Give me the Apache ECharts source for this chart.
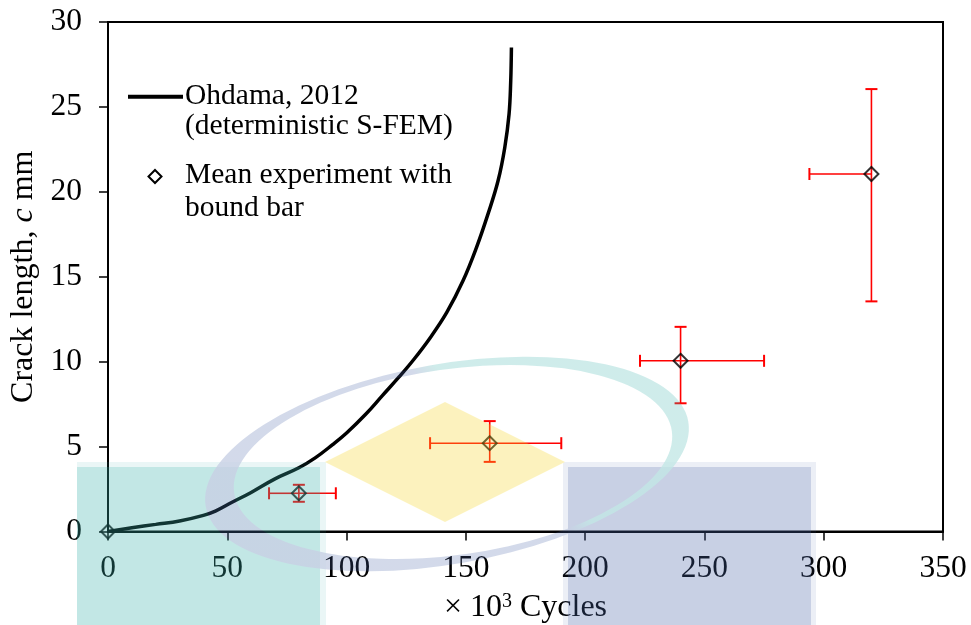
<!DOCTYPE html>
<html>
<head>
<meta charset="utf-8">
<script src="https://cdn.jsdelivr.net/npm/echarts@6/dist/echarts.min.js"></script>
<style>
  html, body { margin: 0; padding: 0; background: #ffffff; }
  #chart { width: 971px; height: 625px; }
</style>
</head>
<body>
<div id="chart"></div>
<script>
// ---- Simulated crack growth curve (Ohdama, 2012, deterministic S-FEM) ----
const simCycles = [0, 10, 20, 30, 40, 45, 52, 60, 70, 80, 87, 94, 100, 108, 115, 122, 128, 135, 142, 148.8, 154.4, 159.3, 163.5, 166.3, 168.1, 168.8, 169.1];
const simCrack  = [0, 0.22, 0.42, 0.62, 0.95, 1.2, 1.72, 2.3, 3.1, 3.75, 4.35, 5.1, 5.8, 6.9, 8.0, 9.1, 10.1, 11.4, 12.9, 14.76, 16.7, 18.7, 20.65, 22.6, 24.57, 26.5, 28.5];

// ---- Mean experiment with bound bars ----
const expCycles    = [0, 80, 160, 240, 320];
const expCrack     = [0, 2.25, 5.2, 10.05, 21.05];
const expCrackLow  = [null, 1.75, 4.1, 7.55, 13.55];
const expCrackHigh = [null, 2.75, 6.5, 12.05, 26.05];
const expCycLow    = [null, 67.5, 135, 223, 294];
const expCycHigh   = [null, 95.5, 190, 275, null];

// ---- Axis ticks ----
const xTicks = [0, 50, 100, 150, 200, 250, 300, 350];
const yTicks = [0, 5, 10, 15, 20, 25, 30];

// ---- Legend text ----
const legendSim = ['Ohdama, 2012', '(deterministic S-FEM)'];
const legendExp = ['Mean experiment with', 'bound bar'];

const FONT = "'Liberation Serif', 'Times New Roman', serif";
const FS_TICK = 31.5;
const FS_NAME = 32;
const FS_LEG = 29.5;

const simData = simCycles.map((c, i) => [c, simCrack[i]]);
const expData = expCycles.map((c, i) => [c, expCrack[i]]);
const barData = expCycles.map((c, i) => [c, expCrack[i], expCycLow[i], expCycHigh[i], expCrackLow[i], expCrackHigh[i]]);

// Faint logo stamp laid over the plot, painted once on an offscreen canvas
function buildStamp() {
  const cv = document.createElement('canvas');
  cv.width = 971; cv.height = 625;
  const ctx = cv.getContext('2d');
  const teal = 'rgb(58,178,172)';
  const blue = 'rgb(75,102,168)';
  const gold = 'rgb(248,215,42)';
  // left block
  ctx.globalAlpha = 0.35; ctx.fillStyle = teal; ctx.fillRect(77, 462, 249, 163);
  ctx.globalAlpha = 1; ctx.fillRect(77, 467, 243, 158);
  // right block
  ctx.globalAlpha = 0.35; ctx.fillStyle = blue; ctx.fillRect(563, 462, 253, 163);
  ctx.globalAlpha = 1; ctx.fillRect(568, 467, 243, 158);
  // diamond
  ctx.fillStyle = gold;
  ctx.beginPath();
  ctx.moveTo(325, 462); ctx.lineTo(445, 402); ctx.lineTo(565, 462); ctx.lineTo(445, 522);
  ctx.closePath(); ctx.fill();
  // swoosh ring
  const grad = ctx.createLinearGradient(465, 500, 555, 410);
  grad.addColorStop(0, blue); grad.addColorStop(0.42, blue);
  grad.addColorStop(0.58, teal); grad.addColorStop(1, teal);
  ctx.fillStyle = grad;
  ctx.globalAlpha = 0.8;
  ctx.beginPath();
  ctx.ellipse(447, 464, 245, 100, -10 * Math.PI / 180, 0, Math.PI * 2, false);
  ctx.ellipse(453, 462, 221, 93, -8 * Math.PI / 180, 0, Math.PI * 2, true);
  ctx.fill('evenodd');
  ctx.globalAlpha = 1;
  return cv;
}

const chart = echarts.init(document.getElementById('chart'), null, { renderer: 'canvas' });

const option = {
  backgroundColor: '#ffffff',
  animation: false,
  textStyle: { fontFamily: FONT },
  grid: {
    left: 108, right: 28, top: 22, bottom: 93.5,
    outerBoundsMode: 'none',
    containLabel: false,
    show: true, borderColor: '#000', borderWidth: 2, backgroundColor: 'transparent'
  },
  xAxis: {
    type: 'value',
    min: xTicks[0], max: xTicks[xTicks.length - 1], interval: xTicks[1] - xTicks[0],
    name: '× 10{sup|3} Cycles',
    nameLocation: 'middle',
    nameGap: 60,
    nameTextStyle: {
      color: '#000', fontFamily: FONT, fontSize: FS_NAME,
      rich: { sup: { fontFamily: FONT, fontSize: 20, color: '#000', padding: [0, 0, 13, 0] } }
    },
    axisLine: { show: true, lineStyle: { color: '#000', width: 2 } },
    axisTick: { show: true, inside: false, length: 9, lineStyle: { color: '#000', width: 1.5 } },
    axisLabel: { color: '#000', fontFamily: FONT, fontSize: FS_TICK, margin: 21 },
    splitLine: { show: false }
  },
  yAxis: {
    type: 'value',
    min: yTicks[0], max: yTicks[yTicks.length - 1], interval: yTicks[1] - yTicks[0],
    name: 'Crack length, {it|c} mm',
    nameLocation: 'middle',
    nameGap: 66,
    nameTextStyle: {
      color: '#000', fontFamily: FONT, fontSize: FS_NAME,
      rich: { it: { fontFamily: FONT, fontSize: FS_NAME, fontStyle: 'italic', color: '#000' } }
    },
    axisLine: { show: true, lineStyle: { color: '#000', width: 2 } },
    axisTick: { show: true, inside: false, length: 9, lineStyle: { color: '#000', width: 1.5 } },
    axisLabel: { color: '#000', fontFamily: FONT, fontSize: FS_TICK, margin: 26 },
    splitLine: { show: false }
  },
  series: [
    {
      name: legendSim.join(' '),
      type: 'line',
      data: simData,
      smooth: 0.4,
      showSymbol: false,
      lineStyle: { color: '#000', width: 3.5 },
      z: 3
    },
    {
      name: 'bounds',
      type: 'custom',
      data: barData,
      z: 4,
      renderItem: function (params, api) {
        const ok = v => v != null && !isNaN(v);
        const x = api.value(0), y = api.value(1);
        const xl = api.value(2), xh = api.value(3), yl = api.value(4), yh = api.value(5);
        const style = { stroke: '#ff0000', lineWidth: 1.6 };
        const capStyle = { stroke: '#ff0000', lineWidth: 2 };
        const cap = 6;
        const children = [];
        const c = api.coord([x, y]);
        if (ok(yl) && ok(yh)) {
          const lo = api.coord([x, yl]), hi = api.coord([x, yh]);
          children.push({ type: 'line', shape: { x1: lo[0], y1: lo[1], x2: hi[0], y2: hi[1] }, style });
          children.push({ type: 'line', shape: { x1: lo[0] - cap, y1: lo[1], x2: lo[0] + cap, y2: lo[1] }, style: capStyle });
          children.push({ type: 'line', shape: { x1: hi[0] - cap, y1: hi[1], x2: hi[0] + cap, y2: hi[1] }, style: capStyle });
        }
        if (ok(xl)) {
          const l = api.coord([xl, y]);
          children.push({ type: 'line', shape: { x1: l[0], y1: l[1], x2: c[0], y2: c[1] }, style });
          children.push({ type: 'line', shape: { x1: l[0], y1: l[1] - cap, x2: l[0], y2: l[1] + cap }, style: capStyle });
        }
        if (ok(xh)) {
          const r = api.coord([xh, y]);
          children.push({ type: 'line', shape: { x1: c[0], y1: c[1], x2: r[0], y2: r[1] }, style });
          children.push({ type: 'line', shape: { x1: r[0], y1: r[1] - cap, x2: r[0], y2: r[1] + cap }, style: capStyle });
        }
        return { type: 'group', children };
      }
    },
    {
      name: legendExp.join(' '),
      type: 'scatter',
      data: expData,
      symbol: 'diamond',
      symbolSize: 14,
      itemStyle: { color: 'rgba(0,0,0,0)', borderColor: '#000', borderWidth: 2 },
      z: 5
    }
  ],
  graphic: [
    // legend: simulation curve
    { type: 'line', shape: { x1: 128, y1: 96.7, x2: 183, y2: 96.7 }, style: { stroke: '#000', lineWidth: 4 }, z: 10 },
    { type: 'text', x: 185, y: 96.7, style: { text: legendSim[0], fill: '#000', font: FS_LEG + 'px ' + FONT, verticalAlign: 'middle' }, z: 10 },
    { type: 'text', x: 185, y: 126.7, style: { text: legendSim[1], fill: '#000', font: FS_LEG + 'px ' + FONT, verticalAlign: 'middle' }, z: 10 },
    // legend: experiment marker
    { type: 'polygon', shape: { points: [[155, 170], [161.5, 176.5], [155, 183], [148.5, 176.5]] }, style: { fill: 'none', stroke: '#000', lineWidth: 2 }, z: 10 },
    { type: 'text', x: 185, y: 175.6, style: { text: legendExp[0], fill: '#000', font: FS_LEG + 'px ' + FONT, verticalAlign: 'middle' }, z: 10 },
    { type: 'text', x: 185, y: 208.2, style: { text: legendExp[1], fill: '#000', font: FS_LEG + 'px ' + FONT, verticalAlign: 'middle' }, z: 10 },
    // faint logo stamp on top
    { type: 'image', x: 0, y: 0, silent: true, z: 100, style: { image: buildStamp(), x: 0, y: 0, width: 971, height: 625, opacity: 0.3 } }
  ]
};

chart.setOption(option);
</script>
</body>
</html>
